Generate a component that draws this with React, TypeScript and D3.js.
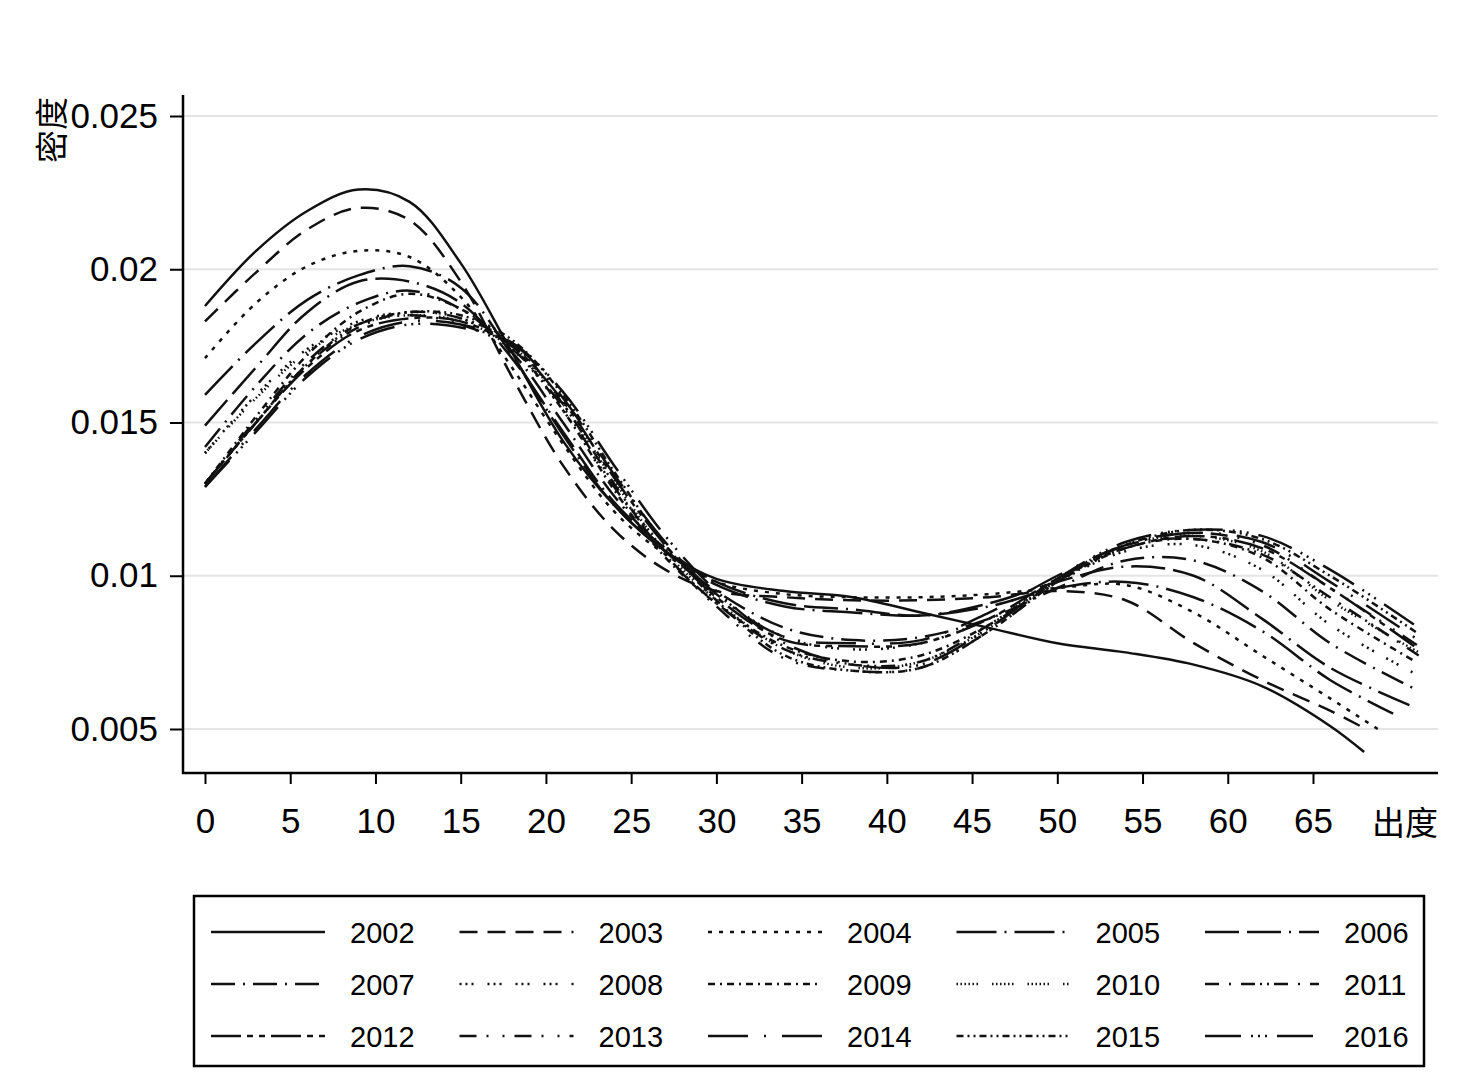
import { useEffect, useRef } from "react";
import * as d3 from "d3";

// density curves of out-degree, one per year (values in 1/1000)
const YEARS = [2002, 2003, 2004, 2005, 2006, 2007, 2008, 2009, 2010, 2011, 2012, 2013, 2014, 2015, 2016];
const X_GRID = [0, 3, 6, 9, 12, 15, 18, 21, 24, 27, 30, 34, 38, 42, 46, 50, 54, 58, 62, 66];

const DENSITY: number[][] = [
  [18.8, 20.6, 21.9, 22.6, 22.2, 20.2, 17.3, 14.4, 12.3, 10.8, 9.9, 9.5, 9.3, 8.8, 8.3, 7.8, 7.5, 7.1, 6.4, 5.1], // 2002
  [18.3, 19.9, 21.3, 22.0, 21.6, 19.6, 16.5, 13.6, 11.5, 10.2, 9.5, 9.3, 9.2, 9.2, 9.3, 9.5, 9.2, 7.8, 6.6, 5.6], // 2003
  [17.1, 18.9, 20.1, 20.6, 20.4, 19.1, 16.8, 14.3, 12.1, 10.7, 9.8, 9.4, 9.3, 9.3, 9.4, 9.6, 9.7, 8.8, 7.4, 6.0], // 2004
  [15.9, 17.6, 19.0, 19.8, 20.1, 19.4, 17.2, 14.6, 12.3, 10.8, 9.7, 9.0, 8.8, 8.7, 9.0, 9.6, 9.8, 9.3, 8.2, 6.6], // 2005
  [14.9, 16.8, 18.6, 19.6, 19.6, 18.9, 17.1, 14.7, 12.4, 10.9, 9.8, 9.1, 8.9, 8.7, 9.1, 9.8, 10.3, 10.0, 8.6, 7.0], // 2006
  [14.2, 16.2, 17.9, 18.9, 19.3, 18.7, 17.3, 15.0, 12.6, 10.8, 9.5, 8.3, 7.9, 8.0, 8.6, 9.6, 10.5, 10.5, 9.5, 7.8], // 2007
  [14.0, 15.9, 17.4, 18.3, 18.6, 18.4, 17.4, 15.4, 12.9, 10.9, 9.4, 8.0, 7.6, 7.8, 8.6, 9.8, 10.8, 11.0, 10.2, 8.4], // 2008
  [13.0, 15.2, 17.2, 18.6, 19.2, 18.7, 17.5, 15.4, 12.8, 10.6, 9.1, 7.7, 7.2, 7.4, 8.4, 9.8, 10.9, 11.2, 10.6, 8.9], // 2009
  [14.0, 15.8, 17.3, 18.2, 18.5, 18.3, 17.5, 15.6, 13.1, 10.8, 9.2, 7.6, 7.0, 7.2, 8.3, 9.9, 11.0, 11.3, 10.8, 9.2], // 2010
  [13.0, 15.0, 16.9, 18.1, 18.6, 18.4, 17.6, 15.6, 13.0, 10.7, 9.1, 7.6, 7.1, 7.2, 8.4, 9.9, 11.0, 11.2, 10.7, 9.3], // 2011
  [13.0, 15.0, 16.8, 18.0, 18.4, 18.3, 17.5, 15.7, 13.2, 11.0, 9.3, 7.9, 7.7, 7.8, 8.6, 9.9, 10.9, 11.3, 10.9, 9.6], // 2012
  [13.0, 15.1, 17.0, 18.2, 18.5, 18.2, 17.4, 15.5, 12.9, 10.7, 9.0, 7.3, 6.9, 7.0, 8.2, 9.8, 11.0, 11.4, 11.0, 9.6], // 2013
  [12.9, 14.8, 16.6, 17.8, 18.3, 18.2, 17.6, 15.8, 13.3, 11.1, 9.4, 8.0, 7.8, 7.9, 8.8, 10.0, 11.0, 11.4, 11.1, 9.8], // 2014
  [13.0, 15.0, 16.9, 18.2, 18.6, 18.5, 17.7, 15.9, 13.4, 11.0, 9.2, 7.4, 6.9, 7.0, 8.2, 9.8, 11.0, 11.5, 11.2, 10.0], // 2015
  [12.9, 14.7, 16.5, 17.7, 18.2, 18.1, 17.6, 16.0, 13.6, 11.3, 9.5, 7.8, 7.1, 7.1, 8.3, 9.9, 11.1, 11.5, 11.3, 10.2], // 2016
];
// last point of each curve (max out-degree of that year)
const END_X = [68, 68.2, 68.8, 69.7, 71, 71, 71, 71, 71.2, 71.2, 71.2, 71.2, 71.2, 71.2, 71.2];
const END_V = [4.25, 4.97, 5.0, 5.5, 5.7, 6.3, 6.8, 7.2, 7.5, 7.4, 7.6, 7.7, 7.9, 8.1, 8.3];

const X_TICKS = [0, 5, 10, 15, 20, 25, 30, 35, 40, 45, 50, 55, 60, 65];
const Y_TICKS = [0.005, 0.01, 0.015, 0.02, 0.025];
const Y_TICK_LABELS = ["0.005", "0.01", "0.015", "0.02", "0.025"];

// stata-ish line patterns
const DASHES = [
  "",
  "18,10",
  "4,7",
  "40,8,2,8",
  "34,8,34,8,2,8",
  "24,8,2,8",
  "2,4,2,4,2,14",
  "7,5,2,5",
  "1.5,2.5,1.5,2.5,1.5,2.5,1.5,2.5,1.5,2.5,1.5,14",
  "14,10,2,10,14,5,2,5,2,5",
  "30,6,6,6,6,6",
  "17,10,2,14,2,10",
  "40,16,2,16",
  "7,4,2,4,2,4",
  "36,10,2,5,2,5,2,10",
];

const FONT = "'Liberation Sans', Arial, Helvetica, sans-serif";
const CJK = "'Noto Sans CJK SC', 'Noto Sans', sans-serif";

export default function App() {
  const svgRef = useRef<SVGSVGElement | null>(null);

  useEffect(() => {
    if (!svgRef.current) return;
    const W = 1470, H = 1090;
    const svg = d3.select(svgRef.current);
    svg.selectAll("*").remove();
    svg.attr("width", W).attr("height", H).attr("viewBox", `0 0 ${W} ${H}`);
    svg.append("rect").attr("width", W).attr("height", H).attr("fill", "#fff");

    const axisLeft = 183, axisRight = 1438, axisTop = 95, axisBottom = 773;
    const x = d3.scaleLinear().domain([0, 65]).range([205, 1313]);
    const y = d3.scaleLinear().domain([0.005, 0.025]).range([729, 116]);

    // grid
    svg.append("g").selectAll("line").data(Y_TICKS).join("line")
      .attr("x1", axisLeft).attr("x2", axisRight)
      .attr("y1", (d) => y(d)).attr("y2", (d) => y(d))
      .attr("stroke", "#e4e4e4").attr("stroke-width", 2);

    // curves
    const line = d3.line<[number, number]>()
      .x((d) => x(d[0]))
      .y((d) => y(d[1] / 1000))
      .curve(d3.curveCatmullRom.alpha(0.5));

    const curves = svg.append("g").attr("fill", "none").attr("stroke", "#111");
    DENSITY.forEach((vals, i) => {
      const pts: [number, number][] = X_GRID.map((xv, j) => [xv, vals[j]]);
      pts.push([END_X[i], END_V[i]]);
      curves.append("path")
        .attr("d", line(pts))
        .attr("stroke-width", 2.5)
        .attr("stroke-dasharray", DASHES[i] || null);
    });

    // axes
    const yAxis = svg.append("g").attr("transform", `translate(${axisLeft},0)`)
      .call(d3.axisLeft(y).tickValues(Y_TICKS).tickSize(13).tickPadding(12)
        .tickFormat((_, i) => Y_TICK_LABELS[i]));
    yAxis.select(".domain").remove();
    yAxis.selectAll("line").attr("stroke", "#000").attr("stroke-width", 2);
    yAxis.selectAll("text").attr("font-size", 35).attr("font-family", FONT).attr("fill", "#000");

    const xAxis = svg.append("g").attr("transform", `translate(0,${axisBottom})`)
      .call(d3.axisBottom(x).tickValues(X_TICKS).tickSize(11).tickPadding(24));
    xAxis.select(".domain").remove();
    xAxis.selectAll("line").attr("stroke", "#000").attr("stroke-width", 2);
    xAxis.selectAll("text").attr("font-size", 35).attr("font-family", FONT).attr("fill", "#000");

    svg.append("line").attr("x1", axisLeft).attr("x2", axisLeft)
      .attr("y1", axisTop).attr("y2", axisBottom + 1)
      .attr("stroke", "#000").attr("stroke-width", 2.5);
    svg.append("line").attr("x1", axisLeft - 1).attr("x2", axisRight)
      .attr("y1", axisBottom).attr("y2", axisBottom)
      .attr("stroke", "#000").attr("stroke-width", 2.5);

    // axis titles
    svg.append("text").attr("transform", "translate(64,130) rotate(-90)")
      .attr("text-anchor", "middle").attr("font-size", 33).attr("font-family", CJK)
      .attr("fill", "#000").text("密度");
    svg.append("text").attr("x", axisRight).attr("y", 835)
      .attr("text-anchor", "end").attr("font-size", 33).attr("font-family", CJK)
      .attr("fill", "#000").text("出度");

    // legend
    const lg = svg.append("g");
    lg.append("rect").attr("x", 194).attr("y", 896).attr("width", 1230).attr("height", 170)
      .attr("fill", "#fff").attr("stroke", "#000").attr("stroke-width", 2.5);
    YEARS.forEach((yr, i) => {
      const col = i % 5, row = Math.floor(i / 5);
      const lx = 211 + col * 248.5, ly = 932 + row * 52;
      lg.append("line").attr("x1", lx).attr("x2", lx + 114).attr("y1", ly).attr("y2", ly)
        .attr("stroke", "#111").attr("stroke-width", 2.5)
        .attr("stroke-dasharray", DASHES[i] || null);
      lg.append("text").attr("x", lx + 139).attr("y", ly + 11)
        .attr("font-size", 29).attr("font-family", FONT).attr("fill", "#000")
        .text(String(yr));
    });
  }, []);

  return (
    <svg ref={svgRef} style={{ display: "block", position: "absolute", left: 0, top: 0 }} />
  );
}
